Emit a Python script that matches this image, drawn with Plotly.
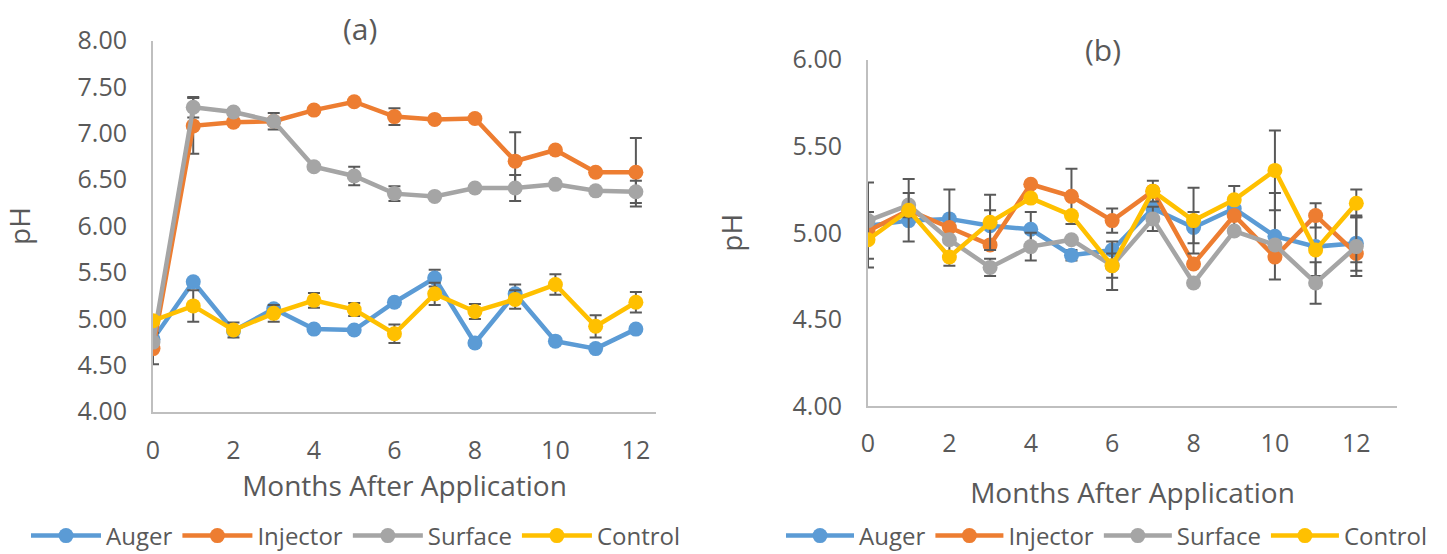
import plotly.graph_objects as go

months = list(range(13))
series_names = ["Auger", "Injector", "Surface", "Control"]
colors = ["#5B9BD5", "#ED7D31", "#A5A5A5", "#FFC000"]

# Panel (a)
a_auger = [4.78, 5.40, 4.87, 5.11, 4.89, 4.88, 5.18, 5.44, 4.74, 5.27, 4.76, 4.68, 4.89]
a_injector = [4.68, 7.08, 7.12, 7.13, 7.25, 7.34, 7.18, 7.15, 7.16, 6.70, 6.82, 6.58, 6.58]
a_surface = [4.75, 7.28, 7.23, 7.13, 6.64, 6.54, 6.35, 6.32, 6.41, 6.41, 6.45, 6.38, 6.37]
a_control = [4.98, 5.14, 4.88, 5.06, 5.20, 5.10, 4.84, 5.27, 5.08, 5.21, 5.37, 4.92, 5.18]
a_auger_err = [0.00, 0.00, 0.00, 0.00, 0.00, 0.00, 0.00, 0.09, 0.00, 0.10, 0.00, 0.00, 0.00]
a_injector_err = [0.17, 0.30, 0.00, 0.00, 0.00, 0.00, 0.09, 0.00, 0.00, 0.31, 0.00, 0.00, 0.37]
a_surface_err = [0.00, 0.11, 0.03, 0.09, 0.00, 0.10, 0.08, 0.00, 0.00, 0.14, 0.00, 0.00, 0.12]
a_control_err = [0.00, 0.17, 0.08, 0.09, 0.08, 0.07, 0.10, 0.12, 0.08, 0.10, 0.11, 0.12, 0.11]

# Panel (b)
b_auger = [5.04, 5.07, 5.08, 5.04, 5.02, 4.87, 4.90, 5.14, 5.03, 5.14, 4.98, 4.92, 4.94]
b_injector = [5.01, 5.13, 5.03, 4.93, 5.28, 5.21, 5.07, 5.24, 4.82, 5.10, 4.86, 5.10, 4.88]
b_surface = [5.07, 5.16, 4.96, 4.80, 4.92, 4.96, 4.81, 5.08, 4.71, 5.01, 4.93, 4.71, 4.92]
b_control = [4.96, 5.13, 4.86, 5.06, 5.20, 5.10, 4.81, 5.24, 5.07, 5.19, 5.36, 4.90, 5.17]
b_auger_err = [0.00, 0.00, 0.00, 0.09, 0.10, 0.03, 0.00, 0.00, 0.09, 0.13, 0.25, 0.17, 0.16]
b_injector_err = [0.00, 0.00, 0.22, 0.00, 0.00, 0.16, 0.07, 0.00, 0.00, 0.00, 0.00, 0.07, 0.05]
b_surface_err = [0.22, 0.07, 0.00, 0.05, 0.08, 0.00, 0.14, 0.07, 0.00, 0.00, 0.00, 0.12, 0.17]
b_control_err = [0.16, 0.18, 0.00, 0.16, 0.00, 0.00, 0.07, 0.06, 0.19, 0.00, 0.23, 0.00, 0.08]

a_vals = [a_auger, a_injector, a_surface, a_control]
a_errs = [a_auger_err, a_injector_err, a_surface_err, a_control_err]
b_vals = [b_auger, b_injector, b_surface, b_control]
b_errs = [b_auger_err, b_injector_err, b_surface_err, b_control_err]

FONT = "Open Sans"
TXT = "#595959"
W, H = 1447, 554

fig = go.Figure()

def add_panel(vals, errs, xa, ya, legend):
    for name, col, v, e in zip(series_names, colors, vals, errs):
        fig.add_trace(go.Scatter(
            x=months, y=v, name=name, mode="lines+markers",
            line=dict(color=col, width=4.5),
            marker=dict(color=col, size=15),
            error_y=dict(type="data", array=e, visible=True, color="#595959",
                         thickness=2, width=6),
            xaxis=xa, yaxis=ya, legend=legend,
        ))

add_panel(a_vals, a_errs, "x", "y", "legend")
add_panel(b_vals, b_errs, "x2", "y2", "legend2")

def px_x(p):
    return p / W

def px_y(p):
    return 1 - p / H

axis_common = dict(
    showgrid=False, zeroline=False, showline=True, linecolor="#BFBFBF", linewidth=2,
    ticks="", tickfont=dict(family=FONT, size=25, color=TXT), automargin=False,
)

fig.update_layout(
    width=W, height=H,
    margin=dict(l=0, r=0, t=0, b=0, autoexpand=False),
    paper_bgcolor="white", plot_bgcolor="white",
    font=dict(family=FONT, color=TXT),
    xaxis=dict(domain=[px_x(153), px_x(656)], range=[0, 12.5], dtick=2, tick0=0,
               anchor="y", ticklabelstandoff=15,
               title=dict(text="Months After Application", font=dict(size=28, color=TXT), standoff=0),
               **axis_common),
    yaxis=dict(domain=[px_y(411.7), px_y(40.5)], range=[4, 8], dtick=0.5, tickformat=".2f",
               anchor="x", ticklabelstandoff=19,
               title=dict(text="pH", font=dict(size=28, color=TXT), standoff=42),
               **axis_common),
    xaxis2=dict(domain=[px_x(868), px_x(1397)], range=[0, 13], dtick=2, tick0=0,
                anchor="y2", ticklabelstandoff=14,
                title=dict(text="Months After Application", font=dict(size=28, color=TXT), standoff=25),
                **axis_common),
    yaxis2=dict(domain=[px_y(406), px_y(59.5)], range=[4, 6], dtick=0.5, tickformat=".2f",
                anchor="x2", ticklabelstandoff=19,
                title=dict(text="pH", font=dict(size=28, color=TXT), standoff=42),
                **axis_common),
    legend=dict(orientation="h", x=px_x(26), y=px_y(536), xanchor="left", yanchor="middle",
                font=dict(family=FONT, size=24, color=TXT), itemwidth=70,
                bgcolor="rgba(0,0,0,0)"),
    legend2=dict(orientation="h", x=px_x(781), y=px_y(536), xanchor="left", yanchor="middle",
                 font=dict(family=FONT, size=24, color=TXT), itemwidth=68,
                 bgcolor="rgba(0,0,0,0)"),
    annotations=[
        dict(text="(a)", x=px_x(360), y=px_y(29), xref="paper", yref="paper",
             showarrow=False, font=dict(family=FONT, size=30, color=TXT),
             xanchor="center", yanchor="middle"),
        dict(text="(b)", x=px_x(1103), y=px_y(49), xref="paper", yref="paper",
             showarrow=False, font=dict(family=FONT, size=30, color=TXT),
             xanchor="center", yanchor="middle"),
    ],
)

fig.write_html("out.html")
